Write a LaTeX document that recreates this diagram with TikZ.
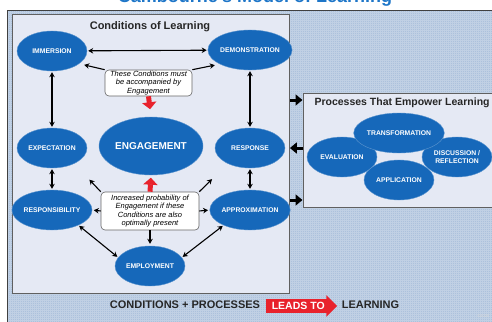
\documentclass[tikz,border=0pt]{standalone}
\usepackage{fontspec}
\setmainfont{Liberation Sans}
\usetikzlibrary{arrows.meta,shapes,shapes.arrows,calc}
\definecolor{condblue}{RGB}{22,104,186}
\definecolor{titleblue}{RGB}{30,118,200}
\definecolor{panelblue}{RGB}{172,193,220}
\definecolor{boxfill}{RGB}{229,233,244}
\definecolor{leadred}{RGB}{232,34,44}
\tikzstyle{bubble}=[ellipse,fill=condblue,draw=condblue!70!white,line width=0.4pt,minimum width=70pt,minimum height=40pt,inner sep=0pt,text=white,align=center,font=\fontsize{6.8}{7.6}\selectfont\bfseries]
\tikzstyle{panel}=[rectangle,fill=boxfill,draw=gray!75!black,line width=0.8pt,inner sep=0pt]
\tikzstyle{note}=[rectangle,rounded corners=4pt,draw=gray!80!black,fill=white,line width=0.6pt,inner sep=1pt,align=center,font=\fontsize{7.5}{8.3}\selectfont\itshape]
\tikzstyle{twoway}=[draw,line width=1.1pt,arrows={Stealth[length=5pt,width=5.5pt]-Stealth[length=5pt,width=5.5pt]},shorten <=1pt,shorten >=1pt]
\tikzstyle{oneway}=[draw,line width=1.1pt,arrows={-Stealth[length=5pt,width=5.5pt]}]
\tikzstyle{redway}=[draw,leadred,line width=5pt,arrows={-Triangle[length=7pt,width=14pt]}]
\tikzstyle{gapway}=[draw,black,line width=3pt,arrows={-Triangle[length=7pt,width=11pt]},shorten <=0.5pt,shorten >=0.5pt]
\tikzstyle{heading}=[font=\fontsize{11}{12}\selectfont\bfseries,text=black!85]

\begin{document}
\begin{tikzpicture}[x=10pt,y=-10pt]
    \useasboundingbox (0,0) rectangle (49.2,32.1);
    \clip (0,0) rectangle (49.2,32.1);

    \node[anchor=base,text=titleblue,font=\fontsize{18}{18}\selectfont\bfseries] (title) at (25.5,0.3) {Cambourne's Model of Learning};

    % backdrop
    \fill[panelblue] (0.7,1.0) rectangle (49.4,32.3);
    \draw[step=2pt,white,opacity=0.25,line width=0.2pt] (0.7,1.0) grid (49.4,32.3);
    \draw[gray!50!black,line width=0.8pt] (0.7,32.3) -- (0.7,1.0) -- (49.4,1.0);

    \node[panel,minimum width=277pt,minimum height=279pt] (cond) at (15.05,15.35) {};
    \node[panel,minimum width=200pt,minimum height=114pt,anchor=west] (proc) at (30.3,15.0) {};

    \node[heading] (condtitle) at (15.0,2.7) {Conditions of Learning};
    \node[heading,font=\fontsize{10.5}{12}\selectfont\bfseries,anchor=west] (proctitle) at (31.1,10.3) {Processes That Empower Learning};

    % conditions
    \foreach \pos/ \name/ \txt in {{(5.2,5.1)/imm/IMMERSION},{(25.0,5.0)/dem/DEMONSTRATION},
        {(5.2,14.8)/exp/EXPECTATION},{(25.0,14.8)/res/RESPONSE},
        {(5.2,21.0)/resp/RESPONSIBILITY},{(25.0,21.0)/appr/APPROXIMATION},{(15.0,26.6)/empl/EMPLOYMENT}}
        \node[bubble] (\name) at \pos {\txt};
    \node[bubble,minimum width=104pt,minimum height=58pt,font=\fontsize{10}{12}\selectfont\bfseries] (eng) at (15.1,14.6) {ENGAGEMENT};

    \node[note,minimum width=87pt,minimum height=26pt] (must) at (14.85,8.3) {These Conditions must\\be accompanied by\\Engagement};
    \node[note,minimum width=98pt,minimum height=38pt] (prob) at (15.0,21.1) {Increased probability of\\Engagement if these\\Conditions are also\\optimally present};

    % links between conditions
    \foreach \source/ \dest in {imm/dem, imm/exp, dem/res, exp/resp, res/appr}
        \path[twoway] (\source) -- (\dest);
    \path[twoway] (resp.-30) -- (empl.165);
    \path[twoway] (appr.210) -- (empl.15);

    \path[oneway,shorten >=5pt] (must.north west) -- (imm.-25);
    \path[oneway,shorten >=5pt] (must.north east) -- (dem.205);
    \path[oneway,shorten >=22pt] (prob.north west) -- (exp.-35);
    \path[oneway,shorten >=22pt] (prob.north east) -- (res.215);
    \path[oneway,shorten >=1.5pt] (prob.west) -- (resp.east);
    \path[oneway,shorten >=1.5pt] (prob.east) -- (appr.west);
    \path[oneway,shorten >=2pt] (prob.south) -- (empl.north);

    \path[redway,shorten >=7.6pt] (must.south) -- (eng.north);
    \path[redway,shorten >=2.5pt] (prob.north) -- (eng.south);

    % processes
    \foreach \pos/ \name/ \txt in {{(34.2,15.7)/eval/EVALUATION},{(45.7,15.7)/disc/{DISCUSSION /\\REFLECTION}},
        {(39.9,13.3)/trans/TRANSFORMATION},{(39.9,18.0)/appl/APPLICATION}}
        \node[bubble] (\name) at \pos {\txt};

    \path[gapway] (cond.east |- 0,10.0) -- (proc.west |- 0,10.0);
    \path[gapway] (proc.west |- 0,14.8) -- (cond.east |- 0,14.8);
    \path[gapway] (cond.east |- 0,20.0) -- (proc.west |- 0,20.0);

    % bottom line
    \node[heading] (cp) at (18.5,30.5) {CONDITIONS + PROCESSES};
    \node[single arrow,fill=leadred,minimum height=71pt,single arrow head extend=4pt,inner xsep=2pt,inner ysep=3pt,text=white,font=\fontsize{10.5}{12}\selectfont\bfseries,anchor=west] (leads) at (26.6,30.6) {LEADS TO};
    \node[heading] (learn) at (37.05,30.5) {LEARNING};
    \node[anchor=west,text=white!85!black,font=\fontsize{4}{4}\selectfont] (copy) at (47.4,31.6) {\textcopyright2020};

\end{tikzpicture}
\end{document}
